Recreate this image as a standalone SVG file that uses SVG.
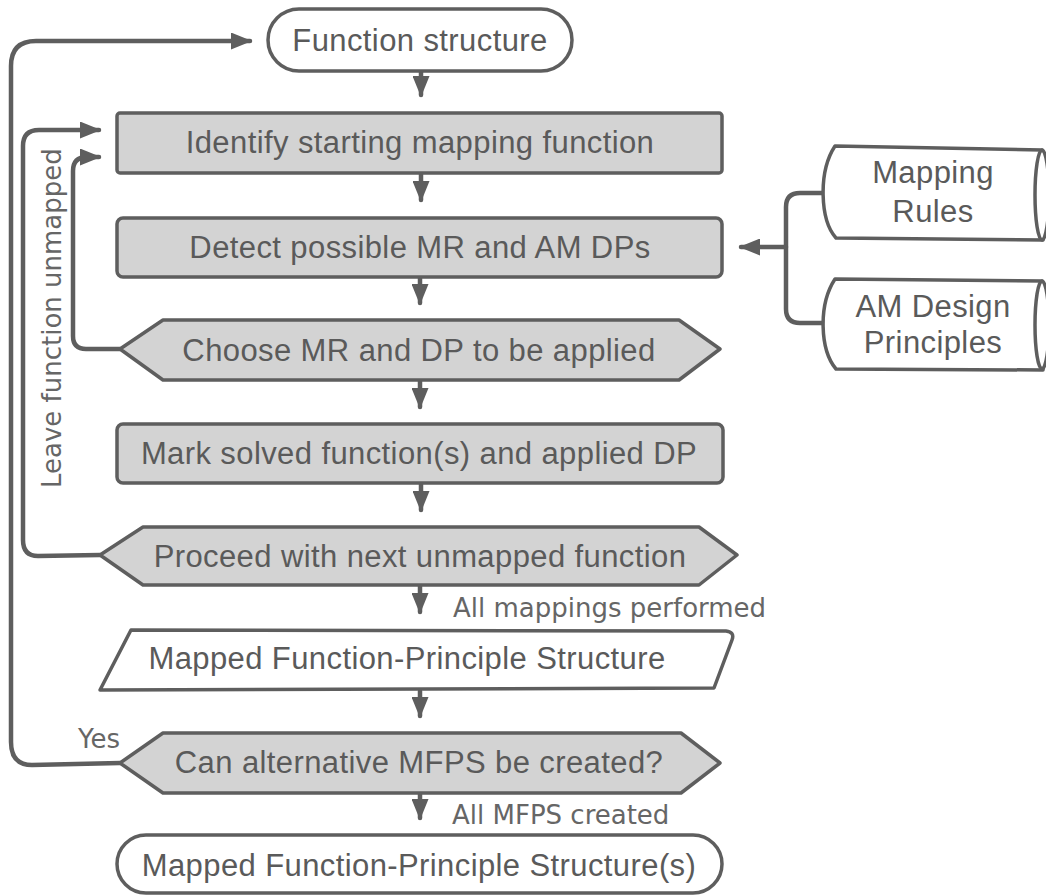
<svg xmlns="http://www.w3.org/2000/svg" width="1046" height="895" viewBox="0 0 1046 895">
<defs>
<marker id="arr" markerUnits="userSpaceOnUse" markerWidth="21" markerHeight="17" refX="19" refY="8.5" orient="auto">
<path d="M0,0 L21,8.5 L0,17 Z" fill="#5e5e5e"/>
</marker>
</defs>
<style>
.box{fill:#d3d3d3;stroke:#5e5e5e;stroke-width:3.5;stroke-linejoin:round}
.wbox{fill:#ffffff;stroke:#5e5e5e;stroke-width:3.5;stroke-linejoin:round}
.lbl{font-family:"Liberation Sans",Arial,sans-serif;font-size:31px;letter-spacing:0.4px;fill:#5a5a5a;text-anchor:middle}
.sm{font-family:"DejaVu Sans",Verdana,sans-serif;font-size:26px;fill:#666666}
.con{fill:none;stroke:#5e5e5e;stroke-width:4.5;stroke-linejoin:round;stroke-linecap:round}
</style>
<rect width="1046" height="895" fill="#ffffff"/>
<g id="connectors">
<path class="con" d="M421,72 L421,95" marker-end="url(#arr)"/>
<path class="con" d="M421,174 L421,200" marker-end="url(#arr)"/>
<path class="con" d="M420,278 L420,303" marker-end="url(#arr)"/>
<path class="con" d="M420,381 L420,407" marker-end="url(#arr)"/>
<path class="con" d="M421,484 L421,510" marker-end="url(#arr)"/>
<path class="con" d="M420,586 L420,612" marker-end="url(#arr)"/>
<path class="con" d="M420,691 L420,716" marker-end="url(#arr)"/>
<path class="con" d="M420,794 L420,818" marker-end="url(#arr)"/>
<path class="con" d="M120,763 L32,765 Q11,765 11,742 L11,66 Q11,41 36,41 L250,41" marker-end="url(#arr)"/>
<path class="con" d="M100,555 L38,556 Q23,556 23,540 L23,146 Q23,130 39,130 L99,130" marker-end="url(#arr)"/>
<path class="con" d="M120,349 L86,349 Q73,349 73,336 L73,171 Q73,157 87,157 L99,157" marker-end="url(#arr)"/>
<path class="con" d="M825,193 L800,193 Q786,193 786,207 L786,309 Q786,323 800,323 L825,323"/>
<path class="con" d="M786,247 L741,247" marker-end="url(#arr)"/>
<text class="sm" x="61" y="488" transform="rotate(-90 61 488)">Leave function unmapped</text>
<text class="sm" x="453" y="617">All mappings performed</text>
<text class="sm" x="78" y="748">Yes</text>
<text class="sm" x="452" y="824">All MFPS created</text>
</g>
<g id="n-function-structure">
<rect class="wbox" x="268" y="9" width="304" height="62" rx="31"/>
<text class="lbl" x="420" y="51">Function structure</text>
</g>
<g id="n-identify">
<rect class="box" x="117" y="113" width="605" height="60" rx="3"/>
<text class="lbl" x="420" y="153">Identify starting mapping function</text>
</g>
<g id="n-detect">
<rect class="box" x="117" y="218" width="605" height="59" rx="6"/>
<text class="lbl" x="420" y="258">Detect possible MR and AM DPs</text>
</g>
<g id="n-choose">
<polygon class="box" points="120,349 163,320 679,320 720,349 679,380 163,380"/>
<text class="lbl" x="419" y="361">Choose MR and DP to be applied</text>
</g>
<g id="n-mark">
<rect class="box" x="117" y="424" width="606" height="59" rx="6"/>
<text class="lbl" x="419" y="464">Mark solved function(s) and applied DP</text>
</g>
<g id="n-proceed">
<polygon class="box" points="100,555 143,527 699,527 737,555 699,585 143,585"/>
<text class="lbl" x="420" y="567">Proceed with next unmapped function</text>
</g>
<g id="n-mfps">
<path class="wbox" d="M131,630 L726,631 Q735,632 732,640 L714,688 L100,690 Z"/>
<text class="lbl" x="407" y="669">Mapped Function-Principle Structure</text>
</g>
<g id="n-alternative">
<polygon class="box" points="120,763 163,733 681,733 720,763 681,793 163,793"/>
<text class="lbl" x="419" y="773">Can alternative MFPS be created?</text>
</g>
<g id="n-result">
<rect class="wbox" x="117" y="835" width="605" height="58" rx="29"/>
<text class="lbl" x="419" y="876">Mapped Function-Principle Structure(s)</text>
</g>
<g id="n-mapping-rules">
<path class="wbox" d="M835,146 L1042,150 L1043,240 L836,238 C820,220 818,172 835,146 Z"/>
<ellipse cx="1042" cy="195" rx="7" ry="45" fill="#ffffff" stroke="#5e5e5e" stroke-width="3.5"/>
<text class="lbl" x="933" y="183">Mapping</text>
<text class="lbl" x="933" y="222">Rules</text>
</g>
<g id="n-am-design">
<path class="wbox" d="M835,279 L1042,281 L1043,370 L836,369 C820,350 818,305 835,279 Z"/>
<ellipse cx="1042" cy="325" rx="7" ry="44" fill="#ffffff" stroke="#5e5e5e" stroke-width="3.5"/>
<text class="lbl" x="933" y="317">AM Design</text>
<text class="lbl" x="933" y="353">Principles</text>
</g>
</svg>
